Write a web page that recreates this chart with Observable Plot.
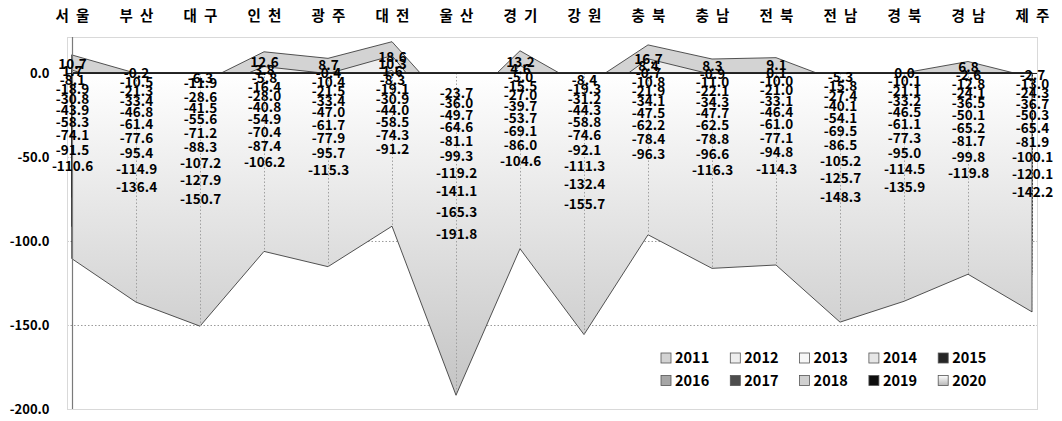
<!DOCTYPE html>
<html>
<head>
<meta charset="utf-8">
<script src="https://cdn.jsdelivr.net/npm/d3@7"></script>
<script src="https://cdn.jsdelivr.net/npm/@observablehq/plot@0.6"></script>
<style>
  html, body { margin: 0; padding: 0; background: #fff; }
  #chart svg { display: block; }
</style>
</head>
<body>
<div id="chart"></div>
<script>
const regions = ["서울","부산","대구","인천","광주","대전","울산","경기","강원","충북","충남","전북","전남","경북","경남","제주"];
const years = [2011,2012,2013,2014,2015,2016,2017,2018,2019,2020];

const v2011 = [10.7, -0.2, -6.3, 12.6, 8.7, 18.6, -23.7, 13.2, -8.4, 16.7, 8.3, 9.1, -5.3, 0.0, 6.8, -2.7];
const v2012 = [1.7, -10.5, -11.9, 3.8, -0.4, 10.3, -36.0, 4.6, -19.3, 8.4, -0.9, 0.1, -15.8, -10.1, -2.6, -13.0];
const v2013 = [-8.1, -21.3, -28.6, -5.8, -10.4, 1.6, -49.7, -5.0, -31.2, -0.7, -11.0, -10.0, -27.4, -21.1, -12.8, -24.3];
const v2014 = [-18.9, -33.4, -41.5, -16.4, -21.5, -8.3, -64.6, -15.5, -44.3, -10.8, -22.1, -21.0, -40.1, -33.2, -24.1, -36.7];
const v2015 = [-30.8, -46.8, -55.6, -28.0, -33.4, -19.1, -81.1, -27.0, -58.8, -21.9, -34.3, -33.1, -54.1, -46.5, -36.5, -50.3];
const v2016 = [-43.9, -61.4, -71.2, -40.8, -47.0, -30.9, -99.3, -39.7, -74.6, -34.1, -47.7, -46.4, -69.5, -61.1, -50.1, -65.4];
const v2017 = [-58.3, -77.6, -88.3, -54.9, -61.7, -44.0, -119.2, -53.7, -92.1, -47.5, -62.5, -61.0, -86.5, -77.3, -65.2, -81.9];
const v2018 = [-74.1, -95.4, -107.2, -70.4, -77.9, -58.5, -141.1, -69.1, -111.3, -62.2, -78.8, -77.1, -105.2, -95.0, -81.7, -100.1];
const v2019 = [-91.5, -114.9, -127.9, -87.4, -95.7, -74.3, -165.3, -86.0, -132.4, -78.4, -96.6, -94.8, -125.7, -114.5, -99.8, -120.1];
const v2020 = [-110.6, -136.4, -150.7, -106.2, -115.3, -91.2, -191.8, -104.6, -155.7, -96.3, -116.3, -114.3, -148.3, -135.9, -119.8, -142.2];

const seriesValues = [v2011, v2012, v2013, v2014, v2015, v2016, v2017, v2018, v2019, v2020];
const seriesFills = ["#d3d3d3", "#eeeeee", "#f7f7f7", "#e6e6e6", "#262626", "#a6a6a6", "#4d4d4d", "#d0d0d0", "#0d0d0d", "url(#grad2020)"];
const yTicks = [0, -50, -100, -150, -200];

const rows = [];
years.forEach((yr, s) => regions.forEach((r, i) => rows.push({year: yr, region: r, value: seriesValues[s][i]})));

const font = "'Noto Sans CJK KR', 'Noto Sans', sans-serif";

const marks = [
  Plot.ruleY([-50, -100, -150], {stroke: "#9a9a9a", strokeDasharray: "1.5,2", strokeWidth: 1}),
  Plot.frame({stroke: "#d9d9d9"}),
  ...years.map((yr, s) => Plot.areaY(rows.filter(d => d.year === yr), {
    x: "region", y1: 0, y2: "value", fill: seriesFills[s], stroke: "#2a2a2a", strokeWidth: 0.8, curve: "linear"
  })),
  Plot.ruleX(regions, {x: d => d, y1: 0, y2: (d, i) => v2020[i], stroke: "#a0a0a0", strokeDasharray: "1.5,2", strokeWidth: 1}),
  Plot.ruleY([0], {stroke: "#1a1a1a", strokeWidth: 1}),
  Plot.ruleX([regions[0]], {stroke: "#7a7a7a", strokeWidth: 1.2}),
  Plot.text(rows, {x: "region", y: d => d.value / 2, text: d => d.value.toFixed(1), fontSize: 13.5, fontWeight: "bold", fill: "#000", textAnchor: "middle"}),
  Plot.axisX({anchor: "top", tickSize: 0, tickPadding: 17, tickFormat: d => d.split("").join("\u2002"), fontSize: 14.5, fontWeight: "bold", fill: "#000"}),
  Plot.axisY({ticks: yTicks, tickFormat: d => d.toFixed(1), tickSize: 0, tickPadding: 18, fontSize: 13, fontWeight: "bold", fill: "#000"})
];

const chart = Plot.plot({
  width: 1062,
  height: 421,
  marginLeft: 67,
  marginRight: 25,
  marginTop: 37,
  marginBottom: 12,
  style: {fontFamily: font, background: "#fff", color: "#000", overflow: "visible"},
  x: {type: "point", domain: regions, padding: 0, label: null},
  y: {domain: [-200, 21.4], label: null},
  marks
});

const svg = d3.select(chart);
const ys = chart.scale("y");
const defs = svg.insert("defs", ":first-child");
const grad = defs.append("linearGradient")
  .attr("id", "grad2020").attr("gradientUnits", "userSpaceOnUse")
  .attr("x1", 0).attr("x2", 0).attr("y1", ys.apply(0)).attr("y2", ys.apply(-192));
grad.append("stop").attr("offset", 0).attr("stop-color", "#ffffff");
grad.append("stop").attr("offset", 1).attr("stop-color", "#c4c4c4");
const lg = defs.append("linearGradient").attr("id", "legGrad").attr("x1", 0).attr("x2", 0).attr("y1", 0).attr("y2", 1);
lg.append("stop").attr("offset", 0).attr("stop-color", "#ffffff");
lg.append("stop").attr("offset", 1).attr("stop-color", "#b8b8b8");

const leg = svg.append("g").attr("font-family", font).attr("font-weight", "bold")
  .attr("font-size", 14.5).attr("text-anchor", "start");
const legX0 = 661, legY0 = 353, colW = 69.3, rowH = 22.5;
years.forEach((yr, s) => {
  const c = s % 5, r = Math.floor(s / 5);
  const g = leg.append("g").attr("transform", `translate(${legX0 + c * colW},${legY0 + r * rowH})`);
  g.append("rect").attr("x", 0).attr("y", 0).attr("width", 10).attr("height", 10)
    .attr("fill", s === 9 ? "url(#legGrad)" : seriesFills[s]).attr("stroke", "#555").attr("stroke-width", 0.8);
  g.append("text").attr("x", 14).attr("y", 5).attr("dy", "0.36em").attr("fill", "#000").text(yr);
});

document.getElementById("chart").appendChild(chart);
</script>
</body>
</html>
